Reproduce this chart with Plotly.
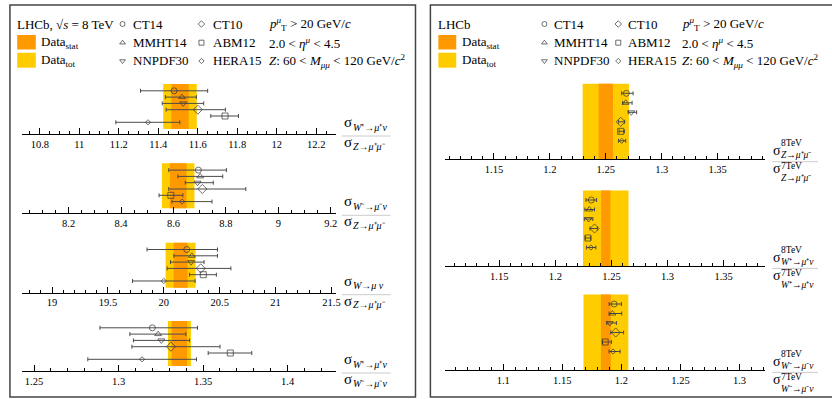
import plotly.graph_objects as go

W, H = 832, 399
FONT = "Liberation Serif, Times New Roman, serif"
STAT_C = "#FF9900"
TOT_C = "#FFCC00"
MK_C = "#333333"
ERR_C = "#4a4a4a"

# ---------------- data ----------------
models = ["CT14", "MMHT14", "NNPDF30", "CT10", "ABM12", "HERA15"]
symbols = ["circle-open", "triangle-up-open", "triangle-down-open",
           "diamond-open", "square-open", "diamond-open"]
msizes = [6, 6, 6, 7, 6, 4]
row_idx = [6, 5, 4, 3, 2, 1]

# W+/Z
wpz_pred = [11.48, 11.52, 11.526, 11.60, 11.738, 11.348]
wpz_lo = [11.31, 11.436, 11.42, 11.44, 11.666, 11.185]
wpz_hi = [11.65, 11.593, 11.63, 11.74, 11.806, 11.509]
wpz_data = [11.51, 0.044, 0.085]
# W-/Z
wmz_pred = [8.695, 8.702, 8.692, 8.71, 8.590, 8.633]
wmz_lo = [8.582, 8.617, 8.645, 8.582, 8.545, 8.594]
wmz_hi = [8.802, 8.788, 8.752, 8.876, 8.636, 8.747]
wmz_data = [8.618, 0.032, 0.062]
# W/Z
wz_pred = [20.205, 20.25, 20.244, 20.33, 20.353, 20.0]
wz_lo = [19.85, 20.09, 20.06, 20.03, 20.23, 19.72]
wz_hi = [20.48, 20.48, 20.36, 20.60, 20.47, 20.28]
wz_data = [20.15, 0.063, 0.134]
# W+/W-
wpm_pred = [1.32, 1.3234, 1.3253, 1.331, 1.3661, 1.3139]
wpm_lo = [1.289, 1.3067, 1.3088, 1.3079, 1.353, 1.2818]
wpm_hi = [1.3467, 1.3398, 1.342, 1.36, 1.3788, 1.3461]
wpm_data = [1.336, 0.0046, 0.0068]
# Z 8/7
z87_pred = [1.2684, 1.2678, 1.2728, 1.2633, 1.2633, 1.2642]
z87_lo = [1.2642, 1.265, 1.270, 1.2613, 1.2619, 1.2613]
z87_hi = [1.2744, 1.2735, 1.2776, 1.2666, 1.2666, 1.2678]
z87_data = [1.2500, 0.0064, 0.0207]
# W+ 8/7
wp87_pred = [1.232, 1.2302, 1.2296, 1.2349, 1.229, 1.2317]
wp87_lo = [1.2272, 1.2263, 1.2258, 1.2308, 1.2267, 1.2278]
wp87_hi = [1.2367, 1.2349, 1.2334, 1.2376, 1.2316, 1.2361]
wp87_data = [1.2449, 0.0041, 0.0203]
# W- 8/7
wm87_pred = [1.1939, 1.1924, 1.1902, 1.1952, 1.1863, 1.193]
wm87_lo = [1.1896, 1.1896, 1.1876, 1.191, 1.184, 1.1896]
wm87_hi = [1.2, 1.2003, 1.1958, 1.2019, 1.1916, 1.1989]
wm87_data = [1.1869, 0.0042, 0.019]

x_ranges = [[10.709, 12.30], [8.0216, 9.22], [18.73, 21.54], [1.2428, 1.4286],
            [1.1062, 1.3927], [1.1016, 1.3872], [1.0507, 1.3219]]
major_dt = [0.2, 0.2, 0.5, 0.05, 0.05, 0.05, 0.05]
minor_dt = [0.05, 0.05, 0.1, 0.01, 0.01, 0.01, 0.01]

WP = "<i>W</i>⁺→<i>μ</i>⁺<i>ν</i>"
WM = "<i>W</i>⁻→<i>μ</i>⁻<i>ν</i>"
WW = "<i>W</i>→<i>μ ν</i>"
ZZ = "<i>Z</i>→<i>μ</i>⁺<i>μ</i>⁻"
num_sub = [WP, WM, WW, WP, ZZ, WP, WM]
den_sub = [ZZ, ZZ, ZZ, WM, ZZ, WP, WM]
energy_num, energy_den = "8TeV", "7TeV"

preds = [wpz_pred, wmz_pred, wz_pred, wpm_pred, z87_pred, wp87_pred, wm87_pred]
los = [wpz_lo, wmz_lo, wz_lo, wpm_lo, z87_lo, wp87_lo, wm87_lo]
his = [wpz_hi, wmz_hi, wz_hi, wpm_hi, z87_hi, wp87_hi, wm87_hi]
datas = [wpz_data, wmz_data, wz_data, wpm_data, z87_data, wp87_data, wm87_data]

# ---------------- layout geometry (pixels) ----------------
LEFT = dict(x0=22, x1=338, band0=0.1, r=[-0.857, 7.08], h=50)
RIGHT = dict(x0=447.7, x1=770, band0=0.0, r=[-0.947, 7.0], h=75.5)
axis_px = [134, 213.3, 292.7, 371, 159.3, 266, 370]
side = [LEFT] * 4 + [RIGHT] * 3


def px(x):
    return x / W


def py(y):
    return 1 - y / H


fig = go.Figure()
layout = dict(width=W, height=H, margin=dict(l=0, r=0, t=0, b=0),
              paper_bgcolor="white", plot_bgcolor="rgba(0,0,0,0)",
              showlegend=False, font=dict(family=FONT, color="black"))
shapes = []
annotations = []


def ann(x, y, text, size, yanchor="middle"):
    annotations.append(dict(x=px(x), y=py(y), xref="paper", yref="paper", text=text,
                            showarrow=False, xanchor="left", yanchor=yanchor,
                            align="left",
                            font=dict(family=FONT, size=size, color="black"), borderpad=0))


for k in range(7):
    n = k + 1
    xa = "x" if n == 1 else f"x{n}"
    ya = "y" if n == 1 else f"y{n}"
    xk = "xaxis" if n == 1 else f"xaxis{n}"
    yk = "yaxis" if n == 1 else f"yaxis{n}"
    g = side[k]
    A = axis_px[k]
    top = A - g["h"]
    pr, lo, hi = preds[k], los[k], his[k]
    fig.add_trace(go.Scatter(
        x=pr, y=row_idx, xaxis=xa, yaxis=ya, mode="markers",
        marker=dict(symbol=symbols, size=msizes, color=MK_C, line=dict(width=1, color=MK_C)),
        error_x=dict(type="data", symmetric=False,
                     array=[h - c for h, c in zip(hi, pr)],
                     arrayminus=[c - l for c, l in zip(pr, lo)],
                     color=ERR_C, thickness=1, width=2),
        hoverinfo="skip"))
    layout[xk] = dict(domain=[px(g["x0"]), px(g["x1"])], range=x_ranges[k], anchor=ya,
                      showline=True, linecolor="black", linewidth=1,
                      ticks="inside", ticklen=6, tickwidth=1, tickcolor="black",
                      tick0=0, dtick=major_dt[k], showgrid=False, zeroline=False,
                      tickfont=dict(family=FONT, size=10.5, color="black"),
                      minor=dict(dtick=minor_dt[k], ticks="inside", ticklen=3,
                                 tickcolor="black", tickwidth=1, showgrid=False),
                      fixedrange=True)
    layout[yk] = dict(domain=[py(A), py(top)], range=g["r"], visible=False,
                      anchor=xa, fixedrange=True)
    c, st, tt = datas[k]
    for (half, col) in [(tt, TOT_C), (st, STAT_C)]:
        shapes.append(dict(type="rect", xref=xa, yref=f"{ya} domain",
                           x0=c - half, x1=c + half, y0=g["band0"], y1=1,
                           fillcolor=col, line=dict(width=0), layer="below"))
    # fraction labels
    if k < 4:
        ann(345, A - 12, "σ", 15)
        ann(354, A - 7, num_sub[k], 10)
        ann(345, A + 8, "σ", 15)
        ann(354, A + 12, den_sub[k], 10)
        shapes.append(dict(type="line", xref="paper", yref="paper",
                           x0=px(344), x1=px(393), y0=py(A + 2), y1=py(A + 2),
                           line=dict(color="#cccccc", width=1)))
    else:
        ann(777, A - 8.5, "σ", 14)
        ann(784.5, A + 1.5, f"{energy_num}<br>{num_sub[k]}", 9.5, yanchor="bottom")
        ann(777, A + 9.5, "σ", 14)
        ann(784.5, A + 1.0, f"{energy_den}<br>{den_sub[k]}", 9.5, yanchor="top")
        shapes.append(dict(type="line", xref="paper", yref="paper",
                           x0=px(777), x1=px(823), y0=py(A + 2.4), y1=py(A + 2.4),
                           line=dict(color="#cccccc", width=1)))

# panel frames
for (x0, x1) in [(10, 418), (433, 860)]:
    shapes.append(dict(type="rect", xref="paper", yref="paper",
                       x0=px(x0), x1=px(x1), y0=py(397), y1=py(5),
                       line=dict(color="#444444", width=1.5), fillcolor="rgba(0,0,0,0)"))

# legends
LEG_ROWS = [24, 42.7, 61]
legends = [
    dict(title="LHCb, √<i>s</i> = 8 TeV", tx=16.5, sq=(17.3, 36), dtx=40,
         m2=123.3, t2=133.3, m3=202.7, t3=213.3, t4=269.3),
    dict(title="LHCb", tx=439.3, sq=(441, 459), dtx=463.5,
         m2=547.7, t2=556.5, m3=622, t3=630.5, t4=685.3),
]
leg_x, leg_y, leg_sym, leg_size = [], [], [], []
for L in legends:
    ann(L["tx"], LEG_ROWS[0], L["title"], 13)
    for (y0, y1, col) in [(35, 49.5, STAT_C), (52.7, 67.7, TOT_C)]:
        shapes.append(dict(type="rect", xref="paper", yref="paper",
                           x0=px(L["sq"][0]), x1=px(L["sq"][1]), y0=py(y1), y1=py(y0),
                           fillcolor=col, line=dict(width=0)))
    ann(L["dtx"], LEG_ROWS[1], "Data<sub>stat</sub>", 13)
    ann(L["dtx"], LEG_ROWS[2], "Data<sub>tot</sub>", 13)
    for i, m in enumerate(models):
        col = i // 3
        r = i % 3
        mx = L["m2"] if col == 0 else L["m3"]
        tx = L["t2"] if col == 0 else L["t3"]
        leg_x.append(mx)
        leg_y.append(LEG_ROWS[r])
        leg_sym.append(symbols[i])
        leg_size.append(4 if i == 5 else 5)
        ann(tx, LEG_ROWS[r], m, 13)
    ann(L["t4"], LEG_ROWS[0], "<i>p</i><sup><i>μ</i></sup><sub>T</sub> &gt; 20 GeV/<i>c</i>", 13)
    ann(L["t4"], LEG_ROWS[1], "2.0 &lt; <i>η</i><sup><i>μ</i></sup> &lt; 4.5", 13)
    ann(L["t4"], LEG_ROWS[2], "<i>Z</i>: 60 &lt; <i>M</i><sub><i>μμ</i></sub> &lt; 120 GeV/<i>c</i><sup>2</sup>", 13)

fig.add_trace(go.Scatter(x=leg_x, y=leg_y, xaxis="x8", yaxis="y8", mode="markers",
                         marker=dict(symbol=leg_sym, size=leg_size, color=MK_C,
                                     line=dict(width=1, color=MK_C)),
                         hoverinfo="skip"))
layout["xaxis8"] = dict(domain=[0, 1], range=[0, W], visible=False, anchor="y8", fixedrange=True)
layout["yaxis8"] = dict(domain=[0, 1], range=[H, 0], visible=False, anchor="x8", fixedrange=True)

layout["shapes"] = shapes
layout["annotations"] = annotations
fig.update_layout(**layout)
fig.write_html("out.html", config={"displayModeBar": False},
               post_script="document.body.style.margin='0';document.body.style.overflow='hidden';")
